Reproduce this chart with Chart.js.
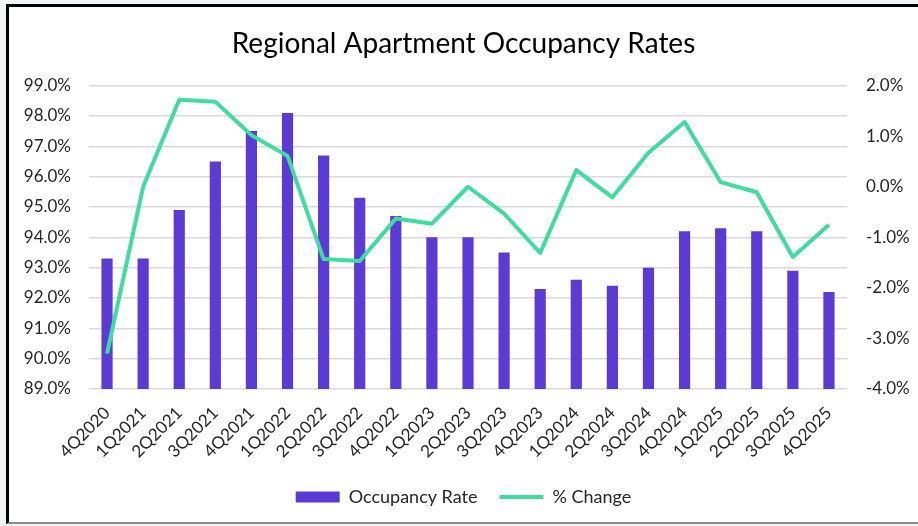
<!DOCTYPE html>
<html><head><meta charset="utf-8">
<script src="https://cdn.jsdelivr.net/npm/chart.js@4"></script>
<style>
html,body{margin:0;padding:0;background:#f3f4f8;width:918px;height:526px;overflow:hidden}
#wrap{position:absolute;left:6px;top:4px;width:912px;height:520px;background:#fff;border-left:3px solid #000;border-top:3px solid #000;border-bottom:2px solid #8c8c8c;box-sizing:border-box}
canvas{display:block}
</style></head>
<body><div id="wrap"><canvas id="c" width="909" height="515"></canvas></div>
<script>
const categories = ['4Q2020','1Q2021','2Q2021','3Q2021','4Q2021','1Q2022','2Q2022','3Q2022','4Q2022','1Q2023','2Q2023','3Q2023','4Q2023','1Q2024','2Q2024','3Q2024','4Q2024','1Q2025','2Q2025','3Q2025','4Q2025'];
const occupancyRate = [93.3,93.3,94.9,96.5,97.5,98.1,96.7,95.3,94.7,94.0,94.0,93.5,92.3,92.6,92.4,93.0,94.2,94.3,94.2,92.9,92.2];
const pctChange = [-3.30,0.00,1.72,1.68,1.02,0.61,-1.43,-1.47,-0.63,-0.73,0.00,-0.53,-1.31,0.33,-0.21,0.67,1.28,0.09,-0.11,-1.39,-0.75];
const leftTicks = [89,90,91,92,93,94,95,96,97,98,99];
const rightTicks = [-4,-3,-2,-1,0,1,2];

const FONT = 'Lato';
const TXT = '#262626';

new Chart(document.getElementById('c'), {
  data: {
    labels: categories,
    datasets: [
      {type:'line', label:'% Change', data:pctChange, yAxisID:'y1', borderColor:'#3EDC9F', backgroundColor:'#3EDC9F', borderWidth:4, pointRadius:0, pointStyle:'line', tension:0, order:0, borderJoinStyle:'round'},
      {type:'bar', label:'Occupancy Rate', data:occupancyRate, yAxisID:'y', backgroundColor:'#5B3AD6', borderColor:'#5B3AD6', barPercentage:0.31, categoryPercentage:1, pointStyle:'rect', order:1}
    ]
  },
  options: {
    responsive:false, animation:false,
    layout:{padding:{left:0,right:0,top:0,bottom:6}},
    plugins:{
      title:{display:true, text:'Regional Apartment Occupancy Rates', color:'#000', font:{family:FONT,size:28,weight:'normal'}, padding:{top:20,bottom:25}},
      legend:{position:'bottom', reverse:true,
        labels:{usePointStyle:true, pointStyleWidth:44, boxHeight:11, color:TXT, font:{family:FONT,size:18}, padding:22}},
      tooltip:{enabled:false}
    },
    scales:{
      x:{grid:{display:false}, border:{display:false},
        afterFit:(s)=>{s.height=77;},
        ticks:{color:TXT, font:{family:FONT,size:17}, maxRotation:45, minRotation:45, padding:6}},
      y:{position:'left', min:89, max:99, border:{display:false},
        grid:{color:'#d9d9d9', lineWidth:1.5, drawTicks:false},
        afterBuildTicks:(s)=>{s.ticks = leftTicks.map(v=>({value:v}));},
        afterFit:(s)=>{s.width=80;},
        ticks:{color:TXT, font:{family:FONT,size:17}, padding:18, callback:(v)=>v.toFixed(1)+'%'}},
      y1:{position:'right', min:-4, max:2, border:{display:false},
        grid:{display:false, drawTicks:false},
        afterBuildTicks:(s)=>{s.ticks = rightTicks.map(v=>({value:v}));},
        afterFit:(s)=>{s.width=71;},
        ticks:{color:TXT, font:{family:FONT,size:17}, padding:19, callback:(v)=>v.toFixed(1)+'%'}}
    }
  }
});
</script></body></html>
